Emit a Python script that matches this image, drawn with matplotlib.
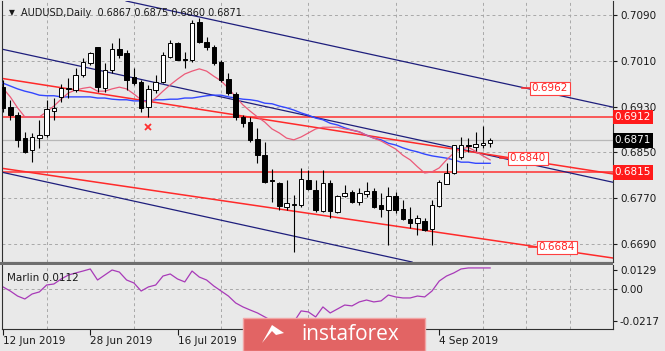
import numpy as np
import pandas as pd
import matplotlib
matplotlib.use("Agg")
import matplotlib.pyplot as plt
from matplotlib.patches import Rectangle, Polygon

# AUDUSD daily candles, 12 Jun - 13 Sep 2019
opens = [0.6964, 0.6929, 0.6915, 0.6875, 0.6854, 0.6875, 0.6880, 0.6922, 0.6947, 0.6961,
         0.6959, 0.6985, 0.7006, 0.7034, 0.6962, 0.6994, 0.7031, 0.7024, 0.6982, 0.6973,
         0.6929, 0.6959, 0.6973, 0.7017, 0.7041, 0.7013, 0.7011, 0.7078, 0.7043, 0.7034,
         0.7008, 0.6978, 0.6952, 0.6912, 0.6903, 0.6873, 0.6846, 0.6802, 0.6797, 0.6755,
         0.6758, 0.6758, 0.6802, 0.6784, 0.6748, 0.6797, 0.6746, 0.6774, 0.6781, 0.6763,
         0.6777, 0.6783, 0.6758, 0.6749, 0.6774, 0.6751, 0.6734, 0.6727, 0.6730, 0.6716,
         0.6756, 0.6795, 0.6814, 0.6842, 0.6863, 0.6859, 0.6863, 0.6867]
highs = [0.6976, 0.6942, 0.6921, 0.6886, 0.6884, 0.6907, 0.6942, 0.6945, 0.6969, 0.6980,
         0.6997, 0.7015, 0.7025, 0.7035, 0.7006, 0.7041, 0.7050, 0.7029, 0.6997, 0.6976,
         0.6968, 0.6985, 0.7025, 0.7046, 0.7043, 0.7025, 0.7081, 0.7085, 0.7052, 0.7038,
         0.7011, 0.6989, 0.6955, 0.6915, 0.6912, 0.6893, 0.6868, 0.6821, 0.6798, 0.6802,
         0.6776, 0.6823, 0.6819, 0.6802, 0.6819, 0.6802, 0.6776, 0.6793, 0.6784, 0.6788,
         0.6798, 0.6788, 0.6779, 0.6790, 0.6781, 0.6767, 0.6755, 0.6741, 0.6735, 0.6767,
         0.6802, 0.6831, 0.6863, 0.6877, 0.6875, 0.6886, 0.6896, 0.6875]
lows = [0.6921, 0.6907, 0.6859, 0.6849, 0.6833, 0.6858, 0.6877, 0.6907, 0.6938, 0.6945,
        0.6955, 0.6982, 0.7003, 0.6955, 0.6955, 0.6989, 0.7015, 0.6959, 0.6968, 0.6921,
        0.6912, 0.6954, 0.6971, 0.7015, 0.7011, 0.6997, 0.7008, 0.7041, 0.7029, 0.7003,
        0.6973, 0.6950, 0.6907, 0.6894, 0.6868, 0.6831, 0.6797, 0.6763, 0.6749, 0.6749,
        0.6676, 0.6755, 0.6784, 0.6746, 0.6746, 0.6735, 0.6744, 0.6772, 0.6762, 0.6758,
        0.6772, 0.6753, 0.6737, 0.6688, 0.6744, 0.6732, 0.6718, 0.6706, 0.6713, 0.6688,
        0.6755, 0.6795, 0.6812, 0.6838, 0.6851, 0.6852, 0.6858, 0.6860]
closes = [0.6928, 0.6915, 0.6872, 0.6851, 0.6877, 0.6880, 0.6926, 0.6928, 0.6962, 0.6962,
          0.6985, 0.7008, 0.7024, 0.6964, 0.6994, 0.7031, 0.7020, 0.6976, 0.6971, 0.6928,
          0.6961, 0.6973, 0.7020, 0.7041, 0.7011, 0.7011, 0.7076, 0.7043, 0.7034, 0.7006,
          0.6976, 0.6954, 0.6912, 0.6901, 0.6872, 0.6846, 0.6798, 0.6800, 0.6756, 0.6762,
          0.6760, 0.6804, 0.6786, 0.6749, 0.6797, 0.6748, 0.6774, 0.6779, 0.6763, 0.6779,
          0.6783, 0.6755, 0.6751, 0.6774, 0.6749, 0.6734, 0.6727, 0.6735, 0.6715, 0.6758,
          0.6798, 0.6814, 0.6863, 0.6863, 0.6862, 0.6865, 0.6866, 0.6871]

# moving averages as drawn
ma_red = [0.6962, 0.6947, 0.6928, 0.6912, 0.6912, 0.6912, 0.6921, 0.6931, 0.6943, 0.6954,
          0.6959, 0.6962, 0.6964, 0.6957, 0.6957, 0.6961, 0.6964, 0.6961, 0.6952, 0.6942,
          0.6936, 0.6945, 0.6957, 0.6968, 0.6978, 0.6987, 0.6992, 0.6996, 0.6992, 0.6983,
          0.6975, 0.6962, 0.6947, 0.6933, 0.6922, 0.6912, 0.6903, 0.6891, 0.6884, 0.6875,
          0.6872, 0.6877, 0.6884, 0.6891, 0.6894, 0.6894, 0.6894, 0.6891, 0.6889, 0.6886,
          0.6880, 0.6875, 0.6870, 0.6863, 0.6856, 0.6845, 0.6837, 0.6825, 0.6814, 0.6816,
          0.6823, 0.6837, 0.6849, 0.6856, 0.6859, 0.6852, 0.6844, 0.6837]
ma_blue = [0.6971, 0.6966, 0.6961, 0.6957, 0.6954, 0.6950, 0.6949, 0.6949, 0.6947, 0.6947,
           0.6947, 0.6947, 0.6947, 0.6945, 0.6945, 0.6943, 0.6942, 0.6942, 0.6940, 0.6940,
           0.6940, 0.6942, 0.6942, 0.6943, 0.6943, 0.6945, 0.6945, 0.6947, 0.6949, 0.6950,
           0.6950, 0.6947, 0.6945, 0.6943, 0.6942, 0.6940, 0.6936, 0.6935, 0.6931, 0.6928,
           0.6924, 0.6919, 0.6915, 0.6910, 0.6907, 0.6901, 0.6898, 0.6893, 0.6889, 0.6886,
           0.6880, 0.6875, 0.6872, 0.6866, 0.6863, 0.6858, 0.6854, 0.6851, 0.6847, 0.6844,
           0.6842, 0.6840, 0.6837, 0.6833, 0.6833, 0.6831, 0.6831, 0.6831]

# Marlin oscillator
marlin = [0.0014, -0.0014, -0.0048, -0.0068, -0.0034, -0.0020, 0.0027, 0.0034, 0.0068, 0.0095,
          0.0109, 0.0122, 0.0136, 0.0061, 0.0095, 0.0129, 0.0115, 0.0061, 0.0041, -0.0014,
          0.0014, 0.0027, 0.0088, 0.0102, 0.0068, 0.0048, 0.0122, 0.0081, 0.0061, 0.0020,
          -0.0014, -0.0048, -0.0095, -0.0122, -0.0143, -0.0163, -0.0190, -0.0217, -0.0238, -0.0244,
          -0.0224, -0.0149, -0.0156, -0.0190, -0.0122, -0.0163, -0.0136, -0.0109, -0.0115, -0.0088,
          -0.0075, -0.0088, -0.0081, -0.0041, -0.0054, -0.0061, -0.0061, -0.0048, -0.0054, -0.0014,
          0.0054, 0.0088, 0.0109, 0.0136, 0.0143, 0.0143, 0.0143, 0.0143]

# trend lines: two (bar, price) anchors each
navy_lines = [((0, 0.7030), (60, 0.6864)),
              ((20, 0.7106), (72, 0.6962)),
              ((0, 0.6815), (50, 0.6676))]
red_lines = [((0, 0.6979), (70, 0.6840)),
             ((0, 0.6822), (74, 0.6684))]
red_levels = [0.6912, 0.6815]
line_labels = [(72.5, 0.6962, "0.6962"), (69.5, 0.6840, "0.6840"), (73.5, 0.6684, "0.6684")]
cross_mark = (20, 0.6894)

price_ticks = [0.7090, 0.7010, 0.6930, 0.6850, 0.6770, 0.6690]
osc_ticks = [0.0129, 0.0, -0.0217]
osc_ticklabels = ["0.0129", "0.00", "-0.0217"]

dates = pd.bdate_range("2019-06-12", periods=len(closes))
n = len(closes)
x = np.arange(n)

bg = "#e9e9e9"
fig = plt.figure(figsize=(6.65, 3.51), dpi=100, facecolor=bg)
W, H = 665.0, 351.0
ax = fig.add_axes([2 / W, 1 - 262 / H, 611 / W, 261 / H], facecolor=bg)
ax2 = fig.add_axes([2 / W, 1 - 329 / H, 611 / W, 64 / H], facecolor=bg, sharex=ax)

ax.set_xlim(-0.14, 83.9)
ax.set_ylim(0.66586, 0.71145)
ax2.set_ylim(-0.0272, 0.0163)

fs = 7.5
txt = "#1a1a1a"
grid_kw = dict(color="#a8a8a8", lw=0.7, ls=(0, (3, 3)))

for a in (ax, ax2):
    a.set_xticks(np.arange(6, 84, 6), minor=True)
    a.grid(True, which="minor", axis="x", **grid_kw)
    for s in a.spines.values():
        s.set_color("#303030")
        s.set_linewidth(0.8)
    a.yaxis.tick_right()
    a.tick_params(axis="y", labelsize=fs, colors=txt, length=3, width=0.8, pad=2)
    a.tick_params(axis="x", which="minor", length=0)

ax.set_yticks(price_ticks)
ax.set_yticklabels([f"{p:.4f}" for p in price_ticks])
ax.grid(True, which="major", axis="y", **grid_kw)
ax.tick_params(axis="x", which="major", length=0, labelbottom=False)
ax.spines["top"].set_visible(False)

ax2.set_yticks(osc_ticks)
ax2.set_yticklabels(osc_ticklabels)
ax2.axhline(0, **grid_kw)
ax2.spines["top"].set_visible(False)
# labels every 12 bars; the two under the watermark are not visible in the chart
lab_idx = list(range(0, n, 12))
hidden = {36, 48}
ax2.set_xticks(lab_idx)
ax2.set_xticklabels(["" if i in hidden else f"{dates[i].day} {dates[i]:%b %Y}" for i in lab_idx],
                    ha="left")
ax2.tick_params(axis="x", which="major", labelsize=fs, colors=txt, length=4, width=0.8, pad=1)

# horizontal levels and trend lines
ax.axhline(closes[-1], color="#b8b8b8", lw=0.9, zorder=1)
for lv in red_levels:
    ax.axhline(lv, color="#ff3030", lw=1.1, zorder=2)
for p1, p2 in navy_lines:
    ax.axline(p1, p2, color="#1e1e7c", lw=0.9, zorder=2)
for p1, p2 in red_lines:
    ax.axline(p1, p2, color="#ff2a2a", lw=1.1, zorder=2)

# moving averages
ax.plot(x, ma_blue, color="#3347ff", lw=1.0, zorder=3)
ax.plot(x, ma_red, color="#ec5a78", lw=0.9, zorder=3)

# candles
o = np.array(opens); c = np.array(closes)
up = c >= o
ax.vlines(x, lows, highs, color="black", lw=0.8, zorder=4)
ax.bar(x, np.abs(c - o), bottom=np.minimum(o, c), width=0.62,
       color=np.where(up, "white", "black"), edgecolor="black", linewidth=0.7, zorder=5)

ax.plot(*cross_mark, marker="x", color="#ff3030", ms=4, mew=1.3, zorder=6)

# trend line price labels
for bx, py, s in line_labels:
    ax.plot([bx - 1.1, bx], [py, py], color="#ff3030", lw=1.2, zorder=6)
    ax.text(bx + 0.2, py, s, color="#ff2020", fontsize=fs, va="center", ha="left", zorder=7,
            bbox=dict(boxstyle="square,pad=0.15", fc="white", ec="#ff4040", lw=0.8))

# colored labels on the price scale
ytr = ax.get_yaxis_transform()
for py, fc in [(0.6912, "#ff1a1a"), (closes[-1], "black"), (0.6815, "#ff1a1a")]:
    ax.text(1.003, py, f"{py:.4f}", transform=ytr, color="white", fontsize=fs, va="center",
            ha="left", zorder=8, clip_on=False,
            bbox=dict(boxstyle="square,pad=0.22", fc=fc, ec=fc, lw=0))

# header
ax.text(0.011, 0.955, "\u25bc", transform=ax.transAxes, fontsize=5.5, color=txt, va="center")
ax.text(0.031, 0.955, f"AUDUSD,Daily  {opens[-1]:.4f} {highs[-1]:.4f} {lows[-1]:.4f} {closes[-1]:.4f}",
        transform=ax.transAxes, fontsize=7, color=txt, va="center")

# oscillator
ax2.plot(x, marlin, color="#a83ab8", lw=0.9)
ax2.text(0.008, 0.8, f"Marlin {0.0112:.4f}", transform=ax2.transAxes, fontsize=fs, color=txt,
         va="center")

# panel separator
fig.patches.append(Rectangle((0, 1 - 265 / H), 613 / W, 3 / H, transform=fig.transFigure,
                             fc="#6e6e6e", ec="none", zorder=10))

# watermark
fig.patches.append(Rectangle((243 / W, 0), 182 / W, 33 / H, transform=fig.transFigure,
                             fc="#e26464", ec="#f2a5a5", lw=1.0, zorder=20))
fig.patches.append(Polygon([(262 / W, 8 / H), (272 / W, 26 / H), (284 / W, 18 / H),
                            (276 / W, 16 / H), (272 / W, 20 / H)],
                           closed=True, transform=fig.transFigure, fc="white", ec="none", zorder=21))
fig.text(350 / W, 16 / H, "instaforex", color="white", fontsize=15, ha="center", va="center",
         family="Open Sans", zorder=21)

fig.savefig("out.png", dpi=100, facecolor=bg)
